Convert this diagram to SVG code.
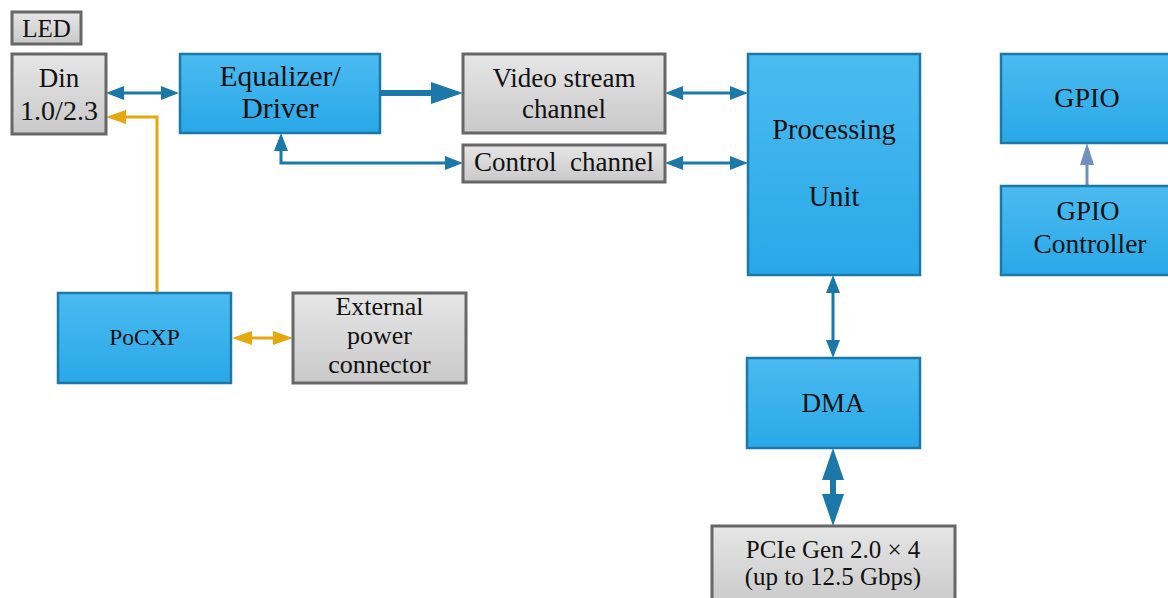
<svg xmlns="http://www.w3.org/2000/svg" width="1168" height="598" viewBox="0 0 1168 598">
<style>
.blue{fill:url(#gBlue);stroke:#1b78a8;stroke-width:2.5}
.gray{fill:url(#gGray);stroke:#676767;stroke-width:3}
text{font-family:"Liberation Serif","DejaVu Serif",serif;fill:#111;text-anchor:middle;white-space:pre}
.c{fill:none;stroke:#1b78a8;stroke-width:3}
.ct{fill:none;stroke:#1b78a8;stroke-width:6}
.cy{fill:none;stroke:#e6a80c;stroke-width:3}
.cg{fill:none;stroke:#7090c0;stroke-width:3}
</style>
<defs>
<linearGradient id="gBlue" x1="0" y1="0" x2="0" y2="1"><stop offset="0" stop-color="#4bbbf0"/><stop offset="1" stop-color="#29a8e8"/></linearGradient>
<linearGradient id="gGray" x1="0" y1="0" x2="0" y2="1"><stop offset="0" stop-color="#e6e6e6"/><stop offset="1" stop-color="#c9c9c9"/></linearGradient>
<marker id="mThin" markerUnits="userSpaceOnUse" orient="auto-start-reverse" refX="0" refY="0" markerWidth="20" markerHeight="16" overflow="visible"><path d="M0,-7 L18,0 L0,7 z" fill="#1b78a8"/></marker>
<marker id="mThick" markerUnits="userSpaceOnUse" orient="auto-start-reverse" refX="0" refY="0" markerWidth="34" markerHeight="24" overflow="visible"><path d="M0,-11 L32,0 L0,11 z" fill="#1b78a8"/></marker>
<marker id="mYel" markerUnits="userSpaceOnUse" orient="auto-start-reverse" refX="0" refY="0" markerWidth="22" markerHeight="16" overflow="visible"><path d="M0,-7 L20,0 L0,7 z" fill="#e6a80c"/></marker>
<marker id="mGpio" markerUnits="userSpaceOnUse" orient="auto-start-reverse" refX="0" refY="0" markerWidth="24" markerHeight="16" overflow="visible"><path d="M0,-7 L22,0 L0,7 z" fill="#7090c0"/></marker>
</defs>
<g id="connectors">
<path class="c" d="M124,93 L161,93" marker-start="url(#mThin)" marker-end="url(#mThin)"/>
<path class="ct" d="M381,93 L431,93" marker-end="url(#mThick)"/>
<path class="c" d="M281,151 L281,163 L445,163" marker-start="url(#mThin)" marker-end="url(#mThin)"/>
<path class="c" d="M683,93 L730,93" marker-start="url(#mThin)" marker-end="url(#mThin)"/>
<path class="c" d="M683,163 L730,163" marker-start="url(#mThin)" marker-end="url(#mThin)"/>
<path class="c" d="M833,293 L833,340" marker-start="url(#mThin)" marker-end="url(#mThin)"/>
<path class="ct" d="M833,480 L833,494" marker-start="url(#mThick)" marker-end="url(#mThick)"/>
<path class="cg" d="M1087,186 L1087,165" marker-end="url(#mGpio)"/>
<path class="cy" d="M157,293 L157,117 L126,117" marker-end="url(#mYel)"/>
<path class="cy" d="M252,338 L273,338" marker-start="url(#mYel)" marker-end="url(#mYel)"/>
</g>
<g id="led"><rect class="gray" x="12" y="12" width="69" height="32"/><text x="46.5" y="37" font-size="25">LED</text></g>
<g id="din"><rect class="gray" x="12" y="54" width="94" height="80"/><text x="59" y="87" font-size="27">Din</text><text x="59" y="120" font-size="28">1.0/2.3</text></g>
<g id="equalizer"><rect class="blue" x="180" y="54" width="200" height="79"/><text x="280" y="86" font-size="29.5">Equalizer/</text><text x="280" y="118" font-size="29.5">Driver</text></g>
<g id="video"><rect class="gray" x="463" y="54" width="202" height="79"/><text x="564" y="87" font-size="27">Video stream</text><text x="564" y="118" font-size="27">channel</text></g>
<g id="control"><rect class="gray" x="463" y="145" width="202" height="37"/><text x="564" y="171" font-size="27">Control  channel</text></g>
<g id="processing"><rect class="blue" x="748" y="54" width="172" height="221"/><text x="834" y="139" font-size="28.5">Processing</text><text x="834" y="206" font-size="28.5">Unit</text></g>
<g id="gpio"><rect class="blue" x="1001" y="54" width="180" height="89"/><text x="1087" y="107" font-size="28">GPIO</text></g>
<g id="gpio-controller"><rect class="blue" x="1001" y="186" width="180" height="89"/><text x="1088" y="220" font-size="27">GPIO</text><text x="1090" y="253" font-size="27.5">Controller</text></g>
<g id="pocxp"><rect class="blue" x="58" y="293" width="173" height="90"/><text x="144.5" y="345" font-size="23.5">PoCXP</text></g>
<g id="external"><rect class="gray" x="293" y="293" width="173" height="90"/><text x="379.5" y="315" font-size="26">External</text><text x="379.5" y="344" font-size="26">power</text><text x="379.5" y="373" font-size="26">connector</text></g>
<g id="dma"><rect class="blue" x="747" y="358" width="173" height="90"/><text x="833" y="412" font-size="27">DMA</text></g>
<g id="pcie"><rect class="gray" x="712" y="526" width="243" height="80"/><text x="833" y="558" font-size="25">PCIe Gen 2.0 × 4</text><text x="833" y="585" font-size="25">(up to 12.5 Gbps)</text></g>
</svg>
